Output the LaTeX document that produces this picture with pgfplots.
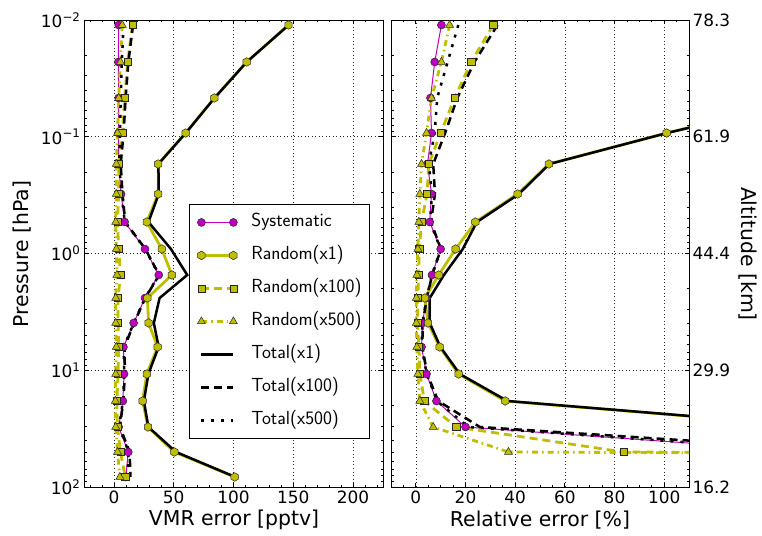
\documentclass[border=0pt]{standalone}
\usepackage{fontspec}
\setmainfont{DejaVu Sans}
\usepackage{pgfplots}
\usepackage{pgfplotstable}
\pgfplotsset{compat=1.18}
\usetikzlibrary{plotmarks}

\definecolor{magC}{rgb}{0.75,0,0.75}
\definecolor{oliveC}{rgb}{0.75,0.75,0}

% hexagon marker with a vertex on top
\pgfdeclareplotmark{hexagon}{%
  \pgfpathmoveto{\pgfqpointpolar{90}{\pgfplotmarksize}}%
  \pgfpathlineto{\pgfqpointpolar{150}{\pgfplotmarksize}}%
  \pgfpathlineto{\pgfqpointpolar{210}{\pgfplotmarksize}}%
  \pgfpathlineto{\pgfqpointpolar{270}{\pgfplotmarksize}}%
  \pgfpathlineto{\pgfqpointpolar{330}{\pgfplotmarksize}}%
  \pgfpathlineto{\pgfqpointpolar{30}{\pgfplotmarksize}}%
  \pgfpathclose
  \pgfusepathqfillstroke}

\tikzset{
  medge/.style={solid, draw=black!85, line width=0.5bp},
  sysline/.style={magC, line width=1bp},
  sysmark/.style={mark=*, mark size=4bp, mark options={medge, fill=magC}},
  ronel/.style={oliveC, line width=2.8bp},
  ronem/.style={mark=hexagon, mark size=4.3bp, mark options={medge, fill=oliveC}},
  rhunl/.style={oliveC, line width=2.8bp, dash pattern=on 8bp off 5bp},
  rhunm/.style={mark=square*, mark size=3.6bp, mark options={medge, fill=oliveC}},
  rfivl/.style={oliveC, line width=2.8bp, dash pattern=on 6bp off 4bp on 1.5bp off 4bp},
  rfivm/.style={mark=triangle*, mark size=4.6bp, mark options={medge, fill=oliveC}},
  tonel/.style={black, line width=2.5bp},
  thunl/.style={black, line width=2.5bp, dash pattern=on 8bp off 5bp},
  tfivl/.style={black, line width=2.5bp, dash pattern=on 3bp off 7bp},
}

% absolute errors [pptv]: p sys r1 r100 r500 t1 t100 t500
\pgfplotstableread{
p       sys   r1    r100  r500  t1     t100  t500
0.01104 4     146   15.5  7     146.1  16.0  8.1
0.02289 3.7   111   11.5  5.5   111.1  12.1  6.6
0.04658 4     84    9     4     84.1   9.8   5.7
0.09288 4     60    7     3     60.1   8.1   5.0
0.1712  4     37    4     2     37.2   5.7   4.5
0.3093  6     37    4     2     37.5   7.2   6.3
0.5374  9     27.5  3     1.5   28.9   9.5   9.1
0.9152  26    40    4     2     47.7   26.3  26.1
1.528   37.5  48.5  5.5   2.5   61.3   37.9  37.6
2.406   26    28    3.5   1.5   38.2   26.2  26.0
3.938   16.5  29    3.5   1.5   33.4   16.9  16.6
6.322   8     36.5  4     2     37.4   8.9   8.2
10.77   8.5   27.5  3.5   1.5   28.8   9.2   8.6
18.34   7.5   24    2.5   1.2   25.1   7.9   7.6
30.63   4     28.5  3     1.5   28.8   5.0   4.3
50.14   12    50.5  5.5   3     51.9   13.2  12.4
82.10   10    101   9.5   5     101.5  13.8  11.2
}\abserr

% relative errors [%]
\pgfplotstableread{
p       sys   r1    r100  r500  t1     t100  t500
0.01104 10.3  290   31.2  13.6  290.2  32.9  17.1
0.02289 7.6   215   22.3  10.3  215.1  23.6  12.8
0.04658 5.9   160   15.6  6.3   160.1  16.7  8.6
0.09288 6.3   101   10    4.3   101.2  11.8  7.6
0.1712  4.7   53.6  5.2   2.3   53.8   7.0   5.2
0.3093  6.3   41    4.5   1.6   41.5   7.7   6.5
0.5374  5.6   24    2.3   1.2   24.6   6.1   5.7
0.9152  10    16    1.4   0.8   18.9   10.1  10.0
1.528   6.5   9.2   1.1   0.4   11.3   6.6   6.5
2.406   4.3   3.6   0.8   0.2   5.6    4.4   4.3
3.938   2.7   4.9   0.7   0.2   5.6    2.8   2.7
6.322   2.3   9.6   1.2   0.4   9.9    2.6   2.3
10.77   4.3   17.2  1.7   0.8   17.7   4.6   4.4
18.34   8.3   36    3.4   1.6   36.9   9.0   8.5
30.63   20    163   16.3  7     164.2  25.8  21.2
50.14   160   673   83.6  37.3  691.8  180.5 164.3
82.10   2800  3000  2600  2300  4104   3821  3623
}\relerr

\begin{document}
\begin{tikzpicture}
\path[use as bounding box] (0,0) rectangle (762bp,536bp);

% ---- absolute error panel ----
\begin{axis}[
  scale only axis, width=299bp, height=467bp,
  at={(84bp,49bp)}, anchor=south west,
  ymode=log, ymin=0.01, ymax=100, y dir=reverse,
  xmin=-25, xmax=225,
  clip marker paths=true,
  axis line style={black, line width=0.9bp},
  grid=major,
  major grid style={black!85, line width=0.6bp, dash pattern=on 1bp off 2.5bp},
  major tick length=4.5bp, minor tick length=2.5bp,
  every tick/.style={black, line width=0.7bp},
  tick label style={font=\fontsize{17}{17}\selectfont},
  ytick={0.01,0.1,1,10,100},
  minor ytick={0.02,0.03,0.04,0.05,0.06,0.07,0.08,0.09,
               0.2,0.3,0.4,0.5,0.6,0.7,0.8,0.9,
               2,3,4,5,6,7,8,9,20,30,40,50,60,70,80,90},
  xtick={0,50,100,150,200}, xticklabels={0,50,100,150,200},
  minor xtick={-20,-10,10,20,30,40,60,70,80,90,110,120,130,140,160,170,180,190,210,220},
  yticklabels={10\textsuperscript{−2},10\textsuperscript{−1},10\textsuperscript{0},10\textsuperscript{1},10\textsuperscript{2}},
  legend image code/.code={\draw[#1] plot coordinates {(0bp,0bp) (32bp,0bp)};},
  legend cell align=left,
  legend style={at={(0.351,0.606)}, anchor=north west, draw=black, line width=0.9bp,
    fill=white, inner xsep=8bp, inner ysep=10bp, row sep=17bp, column sep=14bp,
    font=\sffamily\fontsize{19}{19}\selectfont,
    nodes={inner sep=0pt, text height=12.5bp, text depth=3.5bp, anchor=west}},
]
\addplot[sysline, forget plot] table[x=sys, y=p] {\abserr};
\addplot[ronel, forget plot] table[x=r1, y=p] {\abserr};
\addplot[rhunl, forget plot] table[x=r100, y=p] {\abserr};
\addplot[rfivl, forget plot] table[x=r500, y=p] {\abserr};
\addplot[tonel, forget plot] table[x=t1, y=p] {\abserr};
\addplot[thunl, forget plot] table[x=t100, y=p] {\abserr};
\addplot[tfivl, forget plot] table[x=t500, y=p] {\abserr};
\addplot[only marks, sysmark, forget plot] table[x=sys, y=p] {\abserr};
\addplot[only marks, ronem, forget plot] table[x=r1, y=p] {\abserr};
\addplot[only marks, rhunm, forget plot] table[x=r100, y=p] {\abserr};
\addplot[only marks, rfivm, forget plot] table[x=r500, y=p] {\abserr};

\addlegendimage{sysline, sysmark}\addlegendentry{Systematic}
\addlegendimage{ronel, ronem}\addlegendentry{Random(x1)}
\addlegendimage{rhunl, rhunm}\addlegendentry{Random(x100)}
\addlegendimage{rfivl, rfivm}\addlegendentry{Random(x500)}
\addlegendimage{tonel}\addlegendentry{Total(x1)}
\addlegendimage{thunl}\addlegendentry{Total(x100)}
\addlegendimage{tfivl}\addlegendentry{Total(x500)}
\end{axis}

% ---- relative error panel ----
\begin{axis}[
  scale only axis, width=298bp, height=467bp,
  at={(391bp,49bp)}, anchor=south west,
  ymode=log, ymin=0.01, ymax=100, y dir=reverse,
  xmin=-10, xmax=110,
  clip marker paths=true,
  axis line style={black, line width=0.9bp},
  grid=major,
  major grid style={black!85, line width=0.6bp, dash pattern=on 1bp off 2.5bp},
  major tick length=4.5bp, minor tick length=2.5bp,
  every tick/.style={black, line width=0.7bp},
  tick label style={font=\fontsize{17}{17}\selectfont},
  ytick={0.01,0.1,1,10,100},
  minor ytick={0.02,0.03,0.04,0.05,0.06,0.07,0.08,0.09,
               0.2,0.3,0.4,0.5,0.6,0.7,0.8,0.9,
               2,3,4,5,6,7,8,9,20,30,40,50,60,70,80,90},
  xtick={0,20,40,60,80,100}, xticklabels={0,20,40,60,80,100},
  minor xtick={-5,5,10,15,25,30,35,45,50,55,65,70,75,85,90,95,105},
  yticklabel pos=right,
  yticklabels={78.3,61.9,44.4,29.9,16.2},
]
\addplot[sysline] table[x=sys, y=p] {\relerr};
\addplot[ronel] table[x=r1, y=p] {\relerr};
\addplot[rhunl] table[x=r100, y=p] {\relerr};
\addplot[rfivl] table[x=r500, y=p] {\relerr};
\addplot[tonel] table[x=t1, y=p] {\relerr};
\addplot[thunl] table[x=t100, y=p] {\relerr};
\addplot[tfivl] table[x=t500, y=p] {\relerr};
\addplot[only marks, sysmark] table[x=sys, y=p] {\relerr};
\addplot[only marks, ronem] table[x=r1, y=p] {\relerr};
\addplot[only marks, rhunm] table[x=r100, y=p] {\relerr};
\addplot[only marks, rfivm] table[x=r500, y=p] {\relerr};
\end{axis}

% axis titles
\node[rotate=90, font=\fontsize{20.5}{20.5}\selectfont] at (22bp,282bp) {Pressure [hPa]};
\node[font=\fontsize{20.5}{20.5}\selectfont] at (234bp,16bp) {VMR error [pptv]};
\node[font=\fontsize{20.5}{20.5}\selectfont] at (540bp,16bp) {Relative error [\%]};
\node[rotate=-90, font=\fontsize{20.5}{20.5}\selectfont] at (748bp,282bp) {Altitude [km]};
\end{tikzpicture}
\end{document}
